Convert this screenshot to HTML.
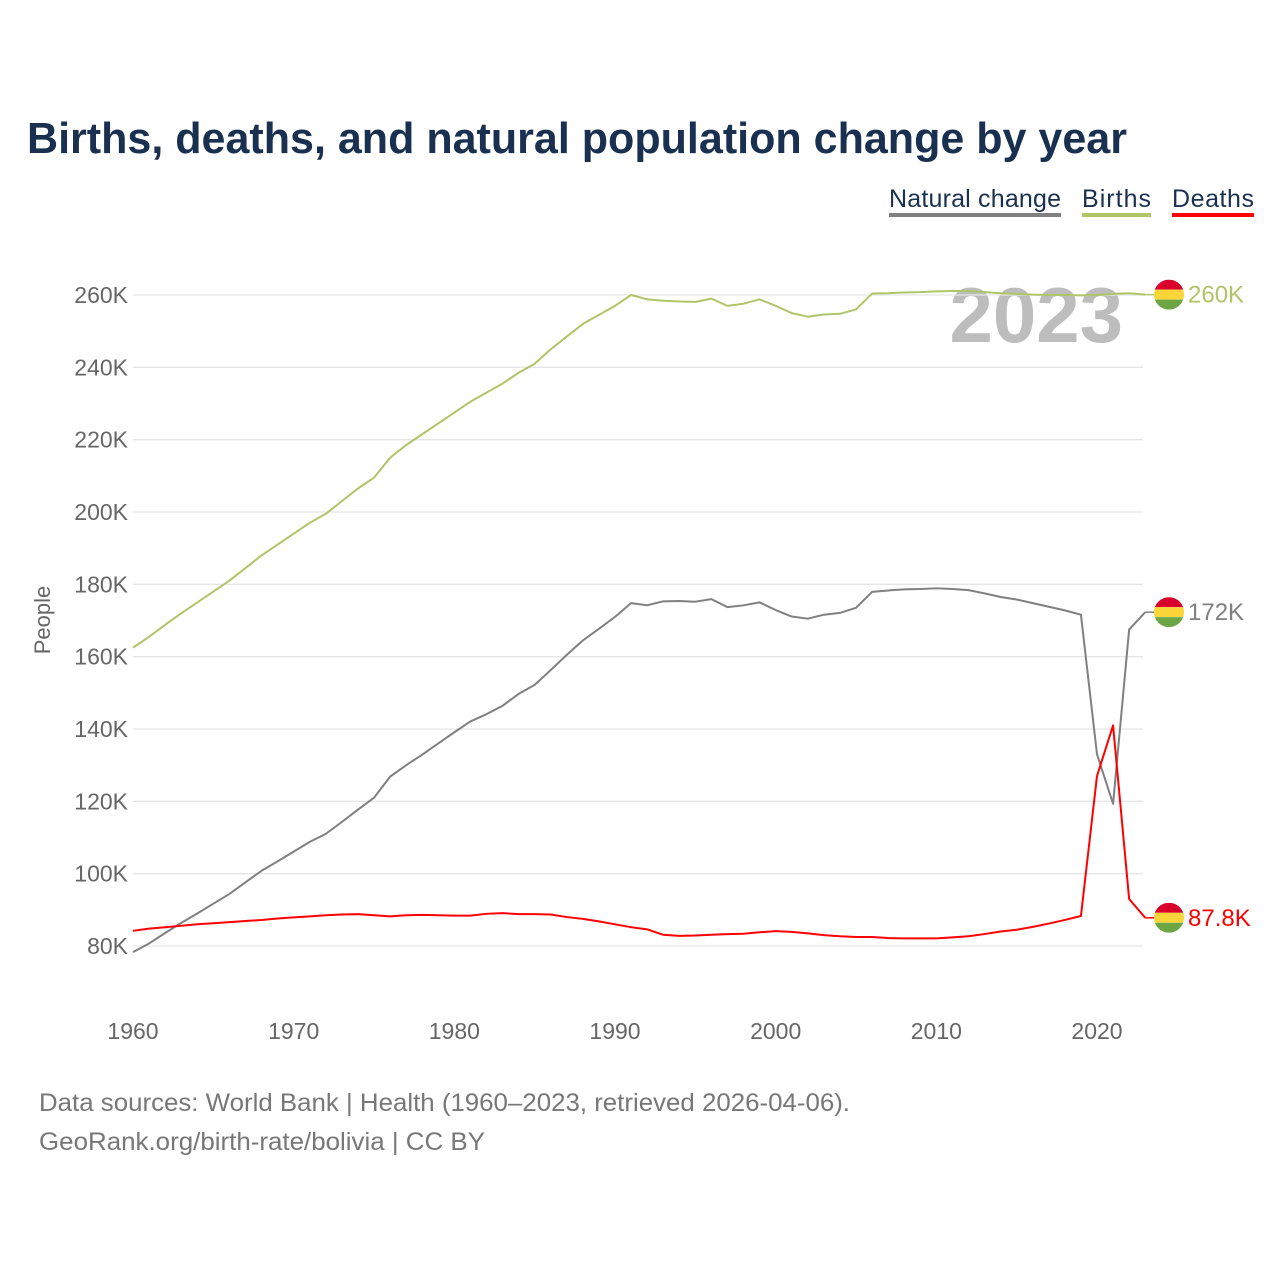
<!DOCTYPE html>
<html><head><meta charset="utf-8"><style>
body{margin:0;background:#fff;}
svg{display:block;font-family:"Liberation Sans",sans-serif;}
</style></head><body>
<svg width="1280" height="1280" viewBox="0 0 1280 1280">
<text x="27" y="153" font-size="44" font-weight="bold" fill="#1a3050" textLength="1100" lengthAdjust="spacingAndGlyphs">Births, deaths, and natural population change by year</text>
<g>
<g><text x="889" y="207" font-size="25" fill="#1a3050" textLength="172">Natural change</text><rect x="889" y="213" width="172" height="4" fill="#808080"/></g>
<g><text x="1082" y="207" font-size="25" fill="#1a3050" textLength="69">Births</text><rect x="1082" y="213" width="69" height="4" fill="#b0c468"/></g>
<g><text x="1172" y="207" font-size="25" fill="#1a3050" textLength="82">Deaths</text><rect x="1172" y="213" width="82" height="4" fill="#ff0000"/></g>
</g>
<text x="1123" y="342" font-size="78" font-weight="bold" fill="#bdbdbd" text-anchor="end">2023</text>
<g id="grid"></g>
<g id="yticks"></g>
<g id="xticks"></g>
<text transform="translate(50,620) rotate(-90)" font-size="22" fill="#666" text-anchor="middle">People</text>
<g id="lines"></g>
<g id="ends"></g>
<text x="39" y="1111" font-size="25" fill="#777" textLength="811" lengthAdjust="spacingAndGlyphs">Data sources: World Bank | Health (1960–2023, retrieved 2026-04-06).</text>
<text x="39" y="1150" font-size="25" fill="#777" textLength="446" lengthAdjust="spacingAndGlyphs">GeoRank.org/birth-rate/bolivia | CC BY</text>
</svg>
<script>
const years=[];for(let y=1960;y<=2023;y++)years.push(y);
const births=[162.5,165.5,168.8,172,175,178,181,184.5,188,191,194,197,199.5,203,206.5,209.5,215,218.5,221.5,224.5,227.5,230.5,233,235.5,238.5,241,245,248.5,252,254.5,257,260,258.8,258.4,258.2,258.1,259,257,257.6,258.8,257,255,254,254.6,254.8,256,260.4,260.5,260.7,260.8,261,261.1,261.1,260.8,260.5,260.3,260.1,260,260,259.9,260,260.3,260.5,260.1];
const deaths=[84.2,84.8,85.2,85.6,86,86.3,86.6,86.9,87.2,87.6,87.9,88.2,88.5,88.7,88.8,88.5,88.2,88.5,88.6,88.5,88.4,88.4,88.9,89.1,88.8,88.8,88.7,88,87.5,86.8,86,85.2,84.6,83.1,82.8,82.9,83.1,83.3,83.4,83.8,84.1,83.9,83.5,83,82.7,82.5,82.5,82.2,82.1,82.1,82.1,82.4,82.7,83.3,84,84.5,85.3,86.2,87.2,88.3,127,141,93,87.8];
const natural=[78.3,80.7,83.6,86.4,89,91.7,94.4,97.6,100.8,103.4,106.1,108.8,111,114.3,117.7,121,126.8,130,132.9,136,139.1,142.1,144.1,146.4,149.7,152.2,156.3,160.5,164.5,167.7,171,174.8,174.2,175.3,175.4,175.2,175.9,173.7,174.2,175,172.9,171.1,170.5,171.6,172.1,173.5,177.9,178.3,178.6,178.7,178.9,178.7,178.4,177.5,176.5,175.8,174.8,173.8,172.8,171.6,133,119.3,167.5,172.3];
const yTicks=[80,100,120,140,160,180,200,220,240,260];
const yTickLabels=["80K","100K","120K","140K","160K","180K","200K","220K","240K","260K"];
const xTicks=[1960,1970,1980,1990,2000,2010,2020];
const endLabels=["172K","260K","87.8K"];
const NS="http://www.w3.org/2000/svg";
const X=y=>133+(y-1960)*(964/60);
const Y=v=>946-(v-80)*(651/180);
function mk(tag,attrs,parent){const e=document.createElementNS(NS,tag);for(const k in attrs)e.setAttribute(k,attrs[k]);parent.appendChild(e);return e;}
const grid=document.getElementById('grid'),yt=document.getElementById('yticks'),xt=document.getElementById('xticks'),lines=document.getElementById('lines'),ends=document.getElementById('ends');
yTicks.forEach((v,i)=>{
 const l=mk('line',{x1:133,x2:1143,y1:Y(v),y2:Y(v),stroke:'#e6e6e6','stroke-width':1.3},grid);
 
 
 const t=mk('text',{x:128,y:Y(v)+8,'font-size':23,fill:'#666','text-anchor':'end'},yt);
 t.textContent=yTickLabels[i];
 
 
});
xTicks.forEach(v=>{
 const t=mk('text',{x:X(v),y:1039,'font-size':23,fill:'#666','text-anchor':'middle'},xt);
 t.textContent=v;
 
 
});
const series=[[natural,'#808080','natural-change-line'],[births,'#b0c468','births-line'],[deaths,'#ff0000','deaths-line']];
series.forEach(([d,c,n],i)=>{
 const p=mk('polyline',{points:d.map((v,j)=>X(years[j])+','+Y(v)).join(' '),fill:'none',stroke:c,'stroke-width':2,'stroke-linejoin':'round'},lines);
 
 
 const last=d[d.length-1],ly=Y(last),lx=X(2023);
 mk('line',{x1:lx,x2:lx+10,y1:ly,y2:ly,stroke:c,'stroke-width':1.5},ends);
 const g=mk('g',{},ends);
 
 
 const cx=1169,r=15,id='cp'+i;
 const cp=mk('clipPath',{id:id},g);mk('circle',{cx:cx,cy:ly,r:r},cp);
 mk('rect',{x:cx-r,y:ly-r,width:2*r,height:10,fill:'#d8002a','clip-path':'url(#'+id+')'},g);
 mk('rect',{x:cx-r,y:ly-r+10,width:2*r,height:10,fill:'#fcd638','clip-path':'url(#'+id+')'},g);
 mk('rect',{x:cx-r,y:ly-r+20,width:2*r,height:10,fill:'#6ca644','clip-path':'url(#'+id+')'},g);
 const t=mk('text',{x:1188,y:ly+8,'font-size':24,fill:c},ends);
 t.textContent=endLabels[i];
 
 
});
</script>
</body></html>
